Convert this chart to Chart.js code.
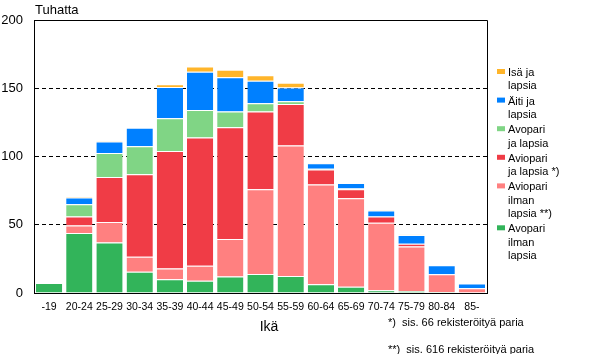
<!DOCTYPE html>
<html>
<head>
<meta charset="utf-8">
<script src="https://cdn.jsdelivr.net/npm/chart.js@4.4.1/dist/chart.umd.min.js"></script>
<style>
  html, body { margin: 0; padding: 0; background: #fff; }
</style>
</head>
<body>
<canvas id="chart" width="591" height="354"></canvas>
<script>
const FONT = "'Liberation Sans', Arial, sans-serif";

const categories = ["-19", "20-24", "25-29", "30-34", "35-39", "40-44", "45-49", "50-54",
  "55-59", "60-64", "65-69", "70-74", "75-79", "80-84", "85-"];

// thousands, bottom to top of each stack
const avopariIlman = [7.3, 44, 37, 15.5, 10, 9, 12, 14, 12.5, 6.5, 4.5, 2, 1.5, 0.8, 0.3];
const aviopariIlman = [0, 5.5, 15, 11, 8, 11, 27.5, 62, 95.5, 73, 65, 49.5, 32.5, 13, 3.2];
const aviopariLapsia = [0, 6.5, 33, 60.5, 86, 94, 82, 57, 30.5, 11, 6.5, 4.5, 2, 0, 0];
const avopariLapsia = [0, 9, 17.5, 20.5, 24, 20, 11.5, 6, 2, 0.5, 0.5, 0, 0, 0, 0];
const aitiLapsia = [0, 5, 8.5, 13.5, 23, 28, 25, 16.5, 10, 4, 4, 4.5, 6.5, 6.5, 3.5];
const isaLapsia = [0, 0.5, 0.3, 0.3, 2, 4, 5.5, 4, 3.5, 0.3, 0.3, 0.3, 0.2, 0.2, 0.1];

const yTicks = [0, 50, 100, 150, 200];
const notes = ["*)  sis. 66 rekisteröityä paria", "**)  sis. 616 rekisteröityä paria"];

const series = [
  { label: "Avopari ilman lapsia", lines: ["Avopari", "ilman", "lapsia"], data: avopariIlman, color: "#32b45a" },
  { label: "Aviopari ilman lapsia **)", lines: ["Aviopari", "ilman", "lapsia **)"], data: aviopariIlman, color: "#ff8080" },
  { label: "Aviopari ja lapsia *)", lines: ["Aviopari", "ja lapsia *)"], data: aviopariLapsia, color: "#f03c46" },
  { label: "Avopari ja lapsia", lines: ["Avopari", "ja lapsia"], data: avopariLapsia, color: "#80d585" },
  { label: "Äiti ja lapsia", lines: ["Äiti ja", "lapsia"], data: aitiLapsia, color: "#0080ff" },
  { label: "Isä ja lapsia", lines: ["Isä ja", "lapsia"], data: isaLapsia, color: "#ffb52a" },
];

const extras = {
  id: "extras",
  afterDraw(chart) {
    const { ctx, chartArea: a } = chart;
    ctx.save();
    // frame top and right
    ctx.strokeStyle = "#000";
    ctx.lineWidth = 1;
    ctx.beginPath();
    ctx.moveTo(a.left, Math.round(a.top) + 0.5);
    ctx.lineTo(Math.round(a.right) + 0.5, Math.round(a.top) + 0.5);
    ctx.lineTo(Math.round(a.right) + 0.5, a.bottom);
    ctx.stroke();

    ctx.fillStyle = "#000";
    ctx.textBaseline = "middle";
    ctx.font = `13px ${FONT}`;
    ctx.fillText("Tuhatta", 35, 10);

    ctx.font = `14px ${FONT}`;
    ctx.textAlign = "center";
    ctx.fillText("Ikä", 269, 327);

    ctx.textAlign = "left";
    ctx.font = `11px ${FONT}`;
    notes.forEach((t, i) => ctx.fillText(t, 388, 322.5 + i * 27));

    // legend, top item = last dataset
    let y = 73;
    series.slice().reverse().forEach((s) => {
      ctx.fillStyle = s.color;
      ctx.fillRect(497, y - 4, 8, 5);
      ctx.fillStyle = "#000";
      s.lines.forEach((l, j) => ctx.fillText(l, 508, y + j * 13.3));
      y += s.lines.length * 13.3 + 2;
    });
    ctx.restore();
  },
};

new Chart(document.getElementById("chart"), {
  type: "bar",
  data: {
    labels: categories,
    datasets: series.map((s) => ({
      label: s.label,
      data: s.data,
      backgroundColor: s.color,
      borderColor: "#ffffff",
      borderWidth: { top: 1, right: 0, bottom: 0, left: 0 },
      borderSkipped: false,
      categoryPercentage: 1,
      barPercentage: 0.87,
    })),
  },
  options: {
    responsive: false,
    animation: false,
    layout: { padding: { top: 20, right: 104, bottom: 0, left: 0 } },
    plugins: {
      legend: { display: false },
      tooltip: { enabled: false },
    },
    scales: {
      x: {
        stacked: true,
        grid: { display: false, drawTicks: false },
        border: { display: true, color: "#000", width: 1 },
        ticks: { color: "#000", font: { family: FONT, size: 10.5 }, padding: 8, maxRotation: 0, autoSkip: false },
        afterFit: (s) => { s.height = 61; },
      },
      y: {
        stacked: true,
        min: 0,
        max: 200,
        afterBuildTicks: (s) => { s.ticks = yTicks.map((v) => ({ value: v })); },
        grid: {
          drawTicks: false,
          color: (c) => (c.tick && c.tick.value > 0 && c.tick.value < 200 ? "#000" : "rgba(0,0,0,0)"),
          lineWidth: 1,
        },
        border: { display: true, color: "#000", width: 1, dash: [4, 3] },
        ticks: { color: "#000", font: { family: FONT, size: 13 }, padding: 11 },
        afterFit: (s) => { s.width = 34; },
      },
    },
  },
  plugins: [extras],
});
</script>
</body>
</html>
